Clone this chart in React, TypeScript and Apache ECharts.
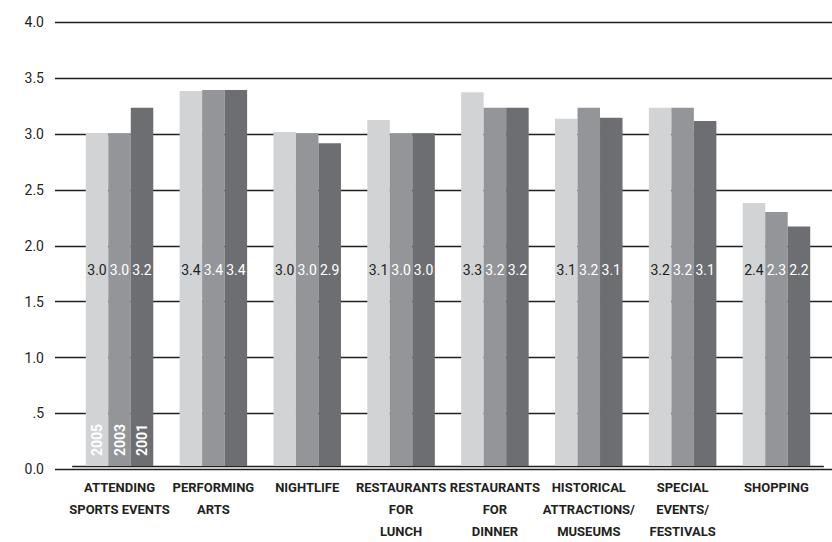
import React, { useEffect, useRef } from "react";
import * as echarts from "echarts";

const CATEGORIES = [
  "ATTENDING\nSPORTS EVENTS",
  "PERFORMING\nARTS",
  "NIGHTLIFE",
  "RESTAURANTS\nFOR\nLUNCH",
  "RESTAURANTS\nFOR\nDINNER",
  "HISTORICAL\nATTRACTIONS/\nMUSEUMS",
  "SPECIAL\nEVENTS/\nFESTIVALS",
  "SHOPPING",
];
const YEARS = ["2005", "2003", "2001"];
const VALUES_2005 = [3.0, 3.38, 3.01, 3.12, 3.37, 3.13, 3.23, 2.37];
const VALUES_2003 = [3.0, 3.39, 3.0, 3.0, 3.23, 3.23, 3.23, 2.29];
const VALUES_2001 = [3.23, 3.39, 2.91, 3.0, 3.23, 3.14, 3.11, 2.16];
const LABELS_2005 = ["3.0", "3.4", "3.0", "3.1", "3.3", "3.1", "3.2", "2.4"];
const LABELS_2003 = ["3.0", "3.4", "3.0", "3.0", "3.2", "3.2", "3.2", "2.3"];
const LABELS_2001 = ["3.2", "3.4", "2.9", "3.0", "3.2", "3.1", "3.1", "2.2"];
const Y_MIN = 0;
const Y_MAX = 4;
const Y_STEP = 0.5;

const COLORS = ["#d1d3d4", "#939598", "#6d6e71"];
const LABEL_COLORS = ["#231f20", "#ffffff", "#ffffff"];
const INK = "#231f20";
const FONT = "Roboto, 'Liberation Sans', sans-serif";

export default function App() {
  const ref = useRef<HTMLDivElement>(null);

  useEffect(() => {
    if (!ref.current) return;
    const chart = echarts.init(ref.current, undefined, { renderer: "svg" });
    const values = [VALUES_2005, VALUES_2003, VALUES_2001];
    const labels = [LABELS_2005, LABELS_2003, LABELS_2001];
    const barWidth = 22.5;

    const valueSeries = YEARS.map((year, i) => ({
      name: year,
      type: "bar",
      xAxisIndex: 1,
      yAxisIndex: 1,
      barWidth,
      barGap: "0%",
      silent: true,
      data: values[i],
      itemStyle: { color: COLORS[i] },
      label: {
        show: true,
        position: "insideBottom",
        distance: 189,
        formatter: (p: any) => labels[i][p.dataIndex],
        color: LABEL_COLORS[i],
        fontFamily: FONT,
        fontSize: 14,
      },
    }));

    const yearSeries = YEARS.map((year, i) => ({
      name: year + " label",
      type: "bar",
      xAxisIndex: 2,
      yAxisIndex: 1,
      barWidth,
      barGap: "0%",
      silent: true,
      z: 5,
      data: values[i],
      itemStyle: { color: "rgba(0,0,0,0)" },
      label: {
        show: true,
        position: "insideBottom",
        distance: 10,
        rotate: 90,
        align: "left",
        verticalAlign: "middle",
        formatter: (p: any) => (p.dataIndex === 0 ? year : ""),
        color: "#ffffff",
        fontFamily: FONT,
        fontWeight: "bold",
        fontSize: 14,
      },
    }));

    chart.setOption({
      animation: false,
      grid: [
        { left: 55, right: 0, top: 22.3, bottom: 72.7 },
        { left: 72.6, right: 8.6, top: 22.3, bottom: 72.7 },
      ],
      xAxis: [
        { type: "value", gridIndex: 0, show: false, min: 0, max: 1 },
        {
          type: "category",
          gridIndex: 1,
          data: CATEGORIES,
          axisLine: { show: true, lineStyle: { color: INK, width: 1.3 } },
          axisTick: { show: false },
          axisLabel: {
            interval: 0,
            margin: 10,
            color: INK,
            fontFamily: FONT,
            fontWeight: "bold",
            fontSize: 13,
            lineHeight: 22,
          },
        },
        { type: "category", gridIndex: 1, data: CATEGORIES, show: false },
      ],
      yAxis: [
        {
          type: "value",
          gridIndex: 0,
          min: Y_MIN,
          max: Y_MAX,
          interval: Y_STEP,
          axisLine: { show: false },
          axisTick: { show: false },
          splitLine: { show: true, lineStyle: { color: INK, width: 1.3 } },
          axisLabel: {
            margin: 11,
            color: INK,
            fontFamily: FONT,
            fontSize: 14,
            formatter: (v: number) => (v === 0.5 ? ".5" : v.toFixed(1)),
          },
        },
        {
          type: "value",
          gridIndex: 1,
          min: Y_MIN,
          max: Y_MAX,
          interval: Y_STEP,
          show: false,
          splitLine: { show: false },
        },
      ],
      series: [...valueSeries, ...yearSeries],
    });

    return () => chart.dispose();
  }, []);

  return (
    <div
      ref={ref}
      style={{ position: "absolute", left: 0, top: 0, width: 832, height: 542, background: "#fff" }}
    />
  );
}
